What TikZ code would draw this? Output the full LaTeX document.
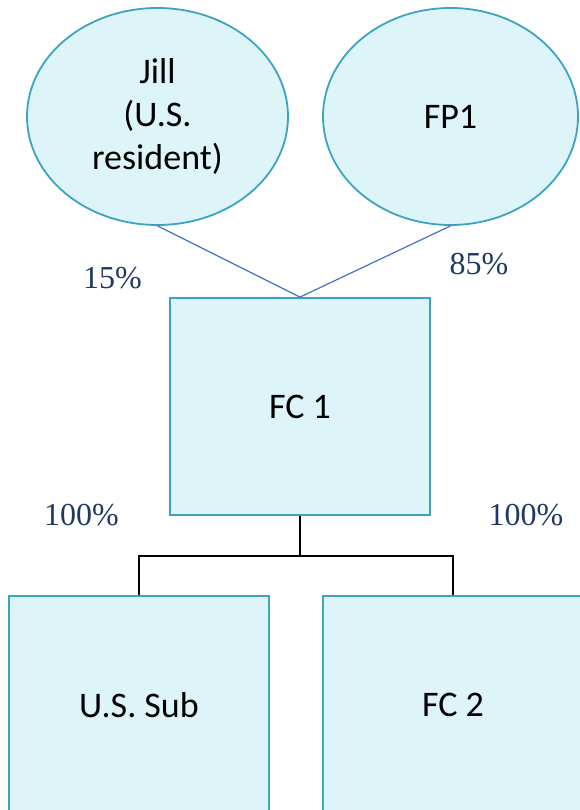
\documentclass[tikz,border=0pt]{standalone}
\usepackage{fontspec}
\setmainfont{Carlito}
\newfontfamily\pctfont{Liberation Serif}
\usetikzlibrary{shapes.geometric}
\definecolor{boxfill}{RGB}{221,244,249}
\definecolor{boxline}{RGB}{60,164,194}
\definecolor{linkblue}{RGB}{68,114,196}
\definecolor{pctblue}{RGB}{31,56,100}
\tikzset{
  entity/.style={draw=boxline, fill=boxfill, line width=1.8pt, inner sep=0pt,
    align=center, font=\fontsize{36}{42.7}\selectfont},
  owner/.style={entity, ellipse, minimum height=217pt},
  corp/.style={entity, rectangle, minimum width=260pt, minimum height=217pt},
  pct/.style={font=\pctfont\fontsize{32}{36}\selectfont, text=pctblue, inner sep=0pt},
  ownline/.style={draw=linkblue, line width=1.2pt},
  tree/.style={draw=black, line width=2.2pt}
}
\begin{document}
\begin{tikzpicture}[x=1pt,y=-1pt]
\useasboundingbox (0,0) rectangle (579,810);
\node[owner, minimum width=261pt] (jill) at (157.5,116.5) {Jill\\(U.S.\\resident)};
\node[owner, minimum width=255pt] (fp1) at (450.5,116.5) {FP1};
\node[corp] (fc1) at (300,406.5) {FC 1};
\node[corp, minimum height=218pt] (ussub) at (139,705) {U.S. Sub};
\node[corp, minimum height=218pt] (fc2) at (453,705) {FC 2};
\coordinate (junction) at (300,556);
\draw[ownline] (jill.south) -- (fc1.north);
\draw[ownline] (fp1.south) -- (fc1.north);
\draw[tree] (fc1.south) -- (junction);
\draw[tree] (ussub.north) |- (junction) -| (fc2.north);
\node[pct] (p15) at (112.5,278) {15\%};
\node[pct] (p85) at (479,264) {85\%};
\node[pct] (p100a) at (81.5,515) {100\%};
\node[pct] (p100b) at (526,515) {100\%};
\end{tikzpicture}
\end{document}
